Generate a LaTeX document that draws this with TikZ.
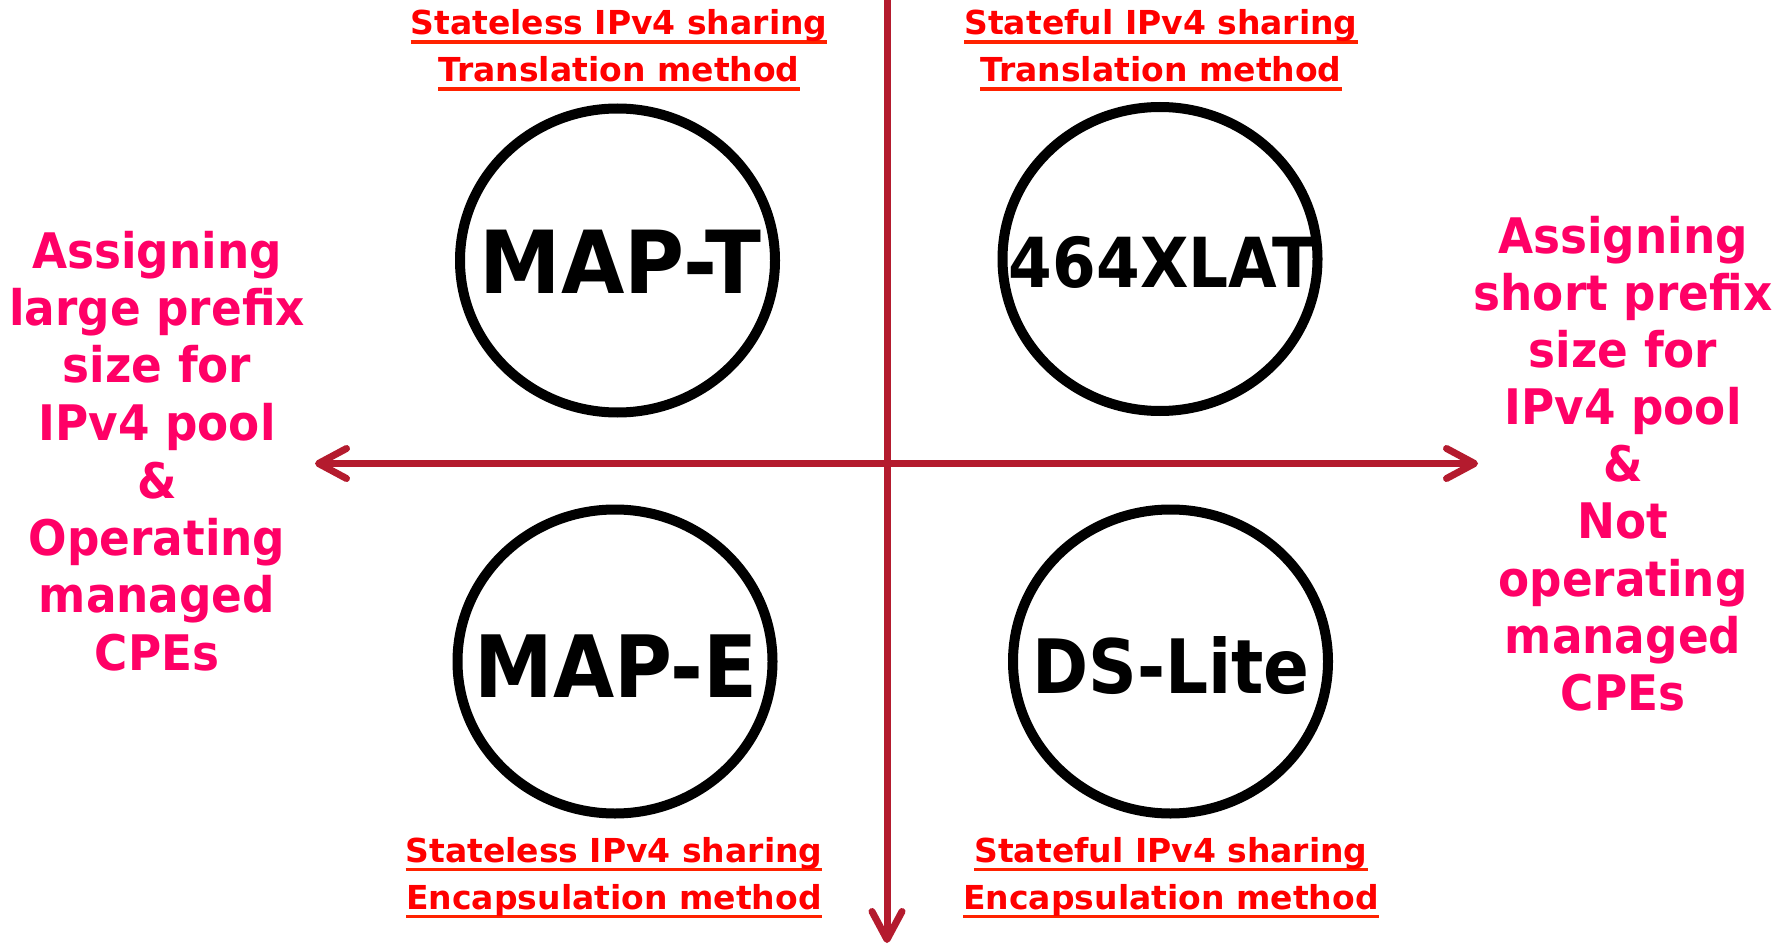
\documentclass[tikz,border=0pt]{standalone}
\usepackage{fontspec}
\setmainfont{DejaVu Sans}
\newfontfamily\narrowsans{DejaVu Sans}[FakeStretch=0.88]
\newfontfamily\sidesans{DejaVu Sans}[FakeStretch=0.925]
\usetikzlibrary{arrows.meta,shapes.geometric}

\definecolor{axisred}{RGB}{180,27,46}
\definecolor{methodred}{RGB}{255,0,0}
\definecolor{ulred}{RGB}{255,34,0}
\definecolor{sidepink}{RGB}{255,0,102}

% underlined method caption line
\newsavebox\ulinebox
\newcommand\ulab[1]{\sbox\ulinebox{#1}\rlap{\textcolor{ulred}{\rule[-9pt]{\wd\ulinebox}{3.5pt}}}\usebox\ulinebox}

\begin{document}
\begin{tikzpicture}[x=1pt,y=-1pt,
  >={Straight Barb[length=28pt,width=30pt,round]},
  axis/.style={draw=axisred,line width=7pt},
  ring/.style={ellipse,draw=black,line width=10pt,minimum width=315pt,minimum height=304pt,inner sep=0pt},
  tech/.style={inner sep=0pt,anchor=base,text=black},
  method/.style={inner sep=0pt,anchor=base,text=methodred,font=\bfseries\fontsize{33}{47}\selectfont},
  side/.style={inner sep=0pt,anchor=base,text=sidepink}]
\useasboundingbox (0,0) rectangle (1791,944);

% axes
\coordinate (west) at (315,463.5);
\coordinate (east) at (1478,463.5);
\coordinate (north) at (887,-2);
\coordinate (south) at (887,943);
\draw[axis,<->] (west) -- (east);
\draw[axis,->] (north) -- (south);

% technology rings
\node[ring] (mapt) at (617.5,260.5) {};
\node[ring] (xlat) at (1160,259) {};
\node[ring] (mape) at (615,661.5) {};
\node[ring] (dslite) at (1170.5,661.5) {};

\node[tech,font=\narrowsans\bfseries\fontsize{87}{87}\selectfont] (maptlbl) at (620.5,293) {\scalebox{1.07}[1]{MAP-T}};
\node[tech,font=\narrowsans\bfseries\fontsize{69}{69}\selectfont] (xlatlbl) at (1162,287) {\scalebox{1.035}[1]{464XLAT}};
\node[tech,font=\narrowsans\bfseries\fontsize{86}{86}\selectfont] (mapelbl) at (616,697) {\scalebox{1.045}[1]{MAP-E}};
\node[tech,font=\narrowsans\bfseries\fontsize{75}{75}\selectfont] (dslitelbl) at (1171,693) {\scalebox{1.025}[1]{DS-Lite}};

% method captions
\node[method] (captl) at (619,35) {\begin{tabular}[t]{@{}c@{}}\ulab{Stateless IPv4 sharing}\\\ulab{Translation method}\end{tabular}};
\node[method] (captr) at (1161,35) {\begin{tabular}[t]{@{}c@{}}\ulab{Stateful IPv4 sharing}\\\ulab{Translation method}\end{tabular}};
\node[method] (capbl) at (614,862) {\begin{tabular}[t]{@{}c@{}}\ulab{Stateless IPv4 sharing}\\\ulab{Encapsulation method}\end{tabular}};
\node[method] (capbr) at (1171,862) {\begin{tabular}[t]{@{}c@{}}\ulab{Stateful IPv4 sharing}\\\ulab{Encapsulation method}\end{tabular}};

% axis end descriptions
\node[side,font=\sidesans\bfseries\fontsize{49}{57.5}\selectfont] (leftnote) at (157,268)
  {\begin{tabular}[t]{@{}c@{}}Assigning\\large prefix\\size for\\IPv4 pool\\\&\\Operating\\managed\\CPEs\end{tabular}};
\node[side,font=\sidesans\bfseries\fontsize{49}{57.2}\selectfont] (rightnote) at (1623,253)
  {\begin{tabular}[t]{@{}c@{}}Assigning\\short prefix\\size for\\IPv4 pool\\\&\\Not\\operating\\managed\\CPEs\end{tabular}};
\end{tikzpicture}
\end{document}
